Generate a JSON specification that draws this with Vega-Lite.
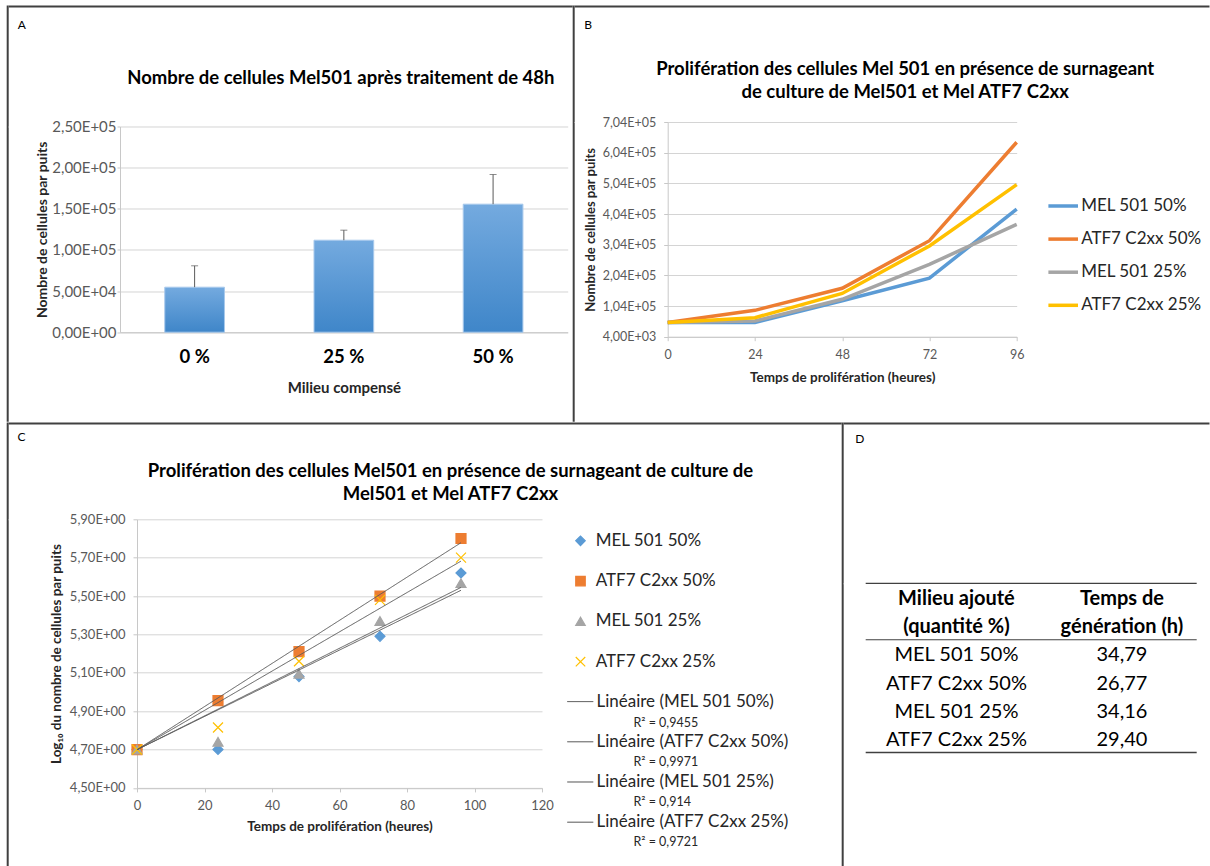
{
  "$schema": "https://vega.github.io/schema/vega-lite/v6.json",
  "padding": {"left": 6.7, "top": 5.5, "right": 0, "bottom": 0},
  "background": "white",
  "config": {
    "font": "Lato",
    "view": {"stroke": null},
    "axis": {"labelFont": "Lato", "titleFont": "Lato", "gridColor": "#d4d4d4", "domainColor": "#c8c8c8", "tickColor": "#c8c8c8", "labelColor": "#595959", "titleColor": "#262626", "titleFontWeight": "bold", "labelOverlap": false},
    "title": {"font": "Lato", "color": "#000000", "fontWeight": "bold"},
    "legend": {"labelFont": "Lato", "labelColor": "#262626", "labelLimit": 400}
  },
  "datasets": {
    "traitement": [
      {"milieu": "0 %", "cellules": 54700, "haut": 80700},
      {"milieu": "25 %", "cellules": 111800, "haut": 124000},
      {"milieu": "50 %", "cellules": 155600, "haut": 191700}
    ],
    "croissance": [
      {"serie": "MEL 501 50%", "heures": 0, "cellules": 50100, "log10": 4.70},
      {"serie": "MEL 501 50%", "heures": 24, "cellules": 50100, "log10": 4.70},
      {"serie": "MEL 501 50%", "heures": 48, "cellules": 121000, "log10": 5.08},
      {"serie": "MEL 501 50%", "heures": 72, "cellules": 195000, "log10": 5.29},
      {"serie": "MEL 501 50%", "heures": 96, "cellules": 420000, "log10": 5.62},
      {"serie": "ATF7 C2xx 50%", "heures": 0, "cellules": 50100, "log10": 4.70},
      {"serie": "ATF7 C2xx 50%", "heures": 24, "cellules": 90000, "log10": 4.955},
      {"serie": "ATF7 C2xx 50%", "heures": 48, "cellules": 162000, "log10": 5.21},
      {"serie": "ATF7 C2xx 50%", "heures": 72, "cellules": 317000, "log10": 5.50},
      {"serie": "ATF7 C2xx 50%", "heures": 96, "cellules": 638000, "log10": 5.80},
      {"serie": "MEL 501 25%", "heures": 0, "cellules": 50100, "log10": 4.70},
      {"serie": "MEL 501 25%", "heures": 24, "cellules": 55000, "log10": 4.74},
      {"serie": "MEL 501 25%", "heures": 48, "cellules": 126000, "log10": 5.095},
      {"serie": "MEL 501 25%", "heures": 72, "cellules": 240000, "log10": 5.37},
      {"serie": "MEL 501 25%", "heures": 96, "cellules": 370000, "log10": 5.567},
      {"serie": "ATF7 C2xx 25%", "heures": 0, "cellules": 50100, "log10": 4.70},
      {"serie": "ATF7 C2xx 25%", "heures": 24, "cellules": 66000, "log10": 4.815},
      {"serie": "ATF7 C2xx 25%", "heures": 48, "cellules": 145000, "log10": 5.16},
      {"serie": "ATF7 C2xx 25%", "heures": 72, "cellules": 300000, "log10": 5.48},
      {"serie": "ATF7 C2xx 25%", "heures": 96, "cellules": 500000, "log10": 5.70}
    ],
    "tendances": [
      {"tendance": "Linéaire (MEL 501 50%)", "r2": "R² = 0,9455", "heures": 0, "log10": 4.699},
      {"tendance": "Linéaire (MEL 501 50%)", "r2": "R² = 0,9455", "heures": 96, "log10": 5.530},
      {"tendance": "Linéaire (ATF7 C2xx 50%)", "r2": "R² = 0,9971", "heures": 0, "log10": 4.699},
      {"tendance": "Linéaire (ATF7 C2xx 50%)", "r2": "R² = 0,9971", "heures": 96, "log10": 5.778},
      {"tendance": "Linéaire (MEL 501 25%)", "r2": "R² = 0,914", "heures": 0, "log10": 4.699},
      {"tendance": "Linéaire (MEL 501 25%)", "r2": "R² = 0,914", "heures": 96, "log10": 5.545},
      {"tendance": "Linéaire (ATF7 C2xx 25%)", "r2": "R² = 0,9721", "heures": 0, "log10": 4.699},
      {"tendance": "Linéaire (ATF7 C2xx 25%)", "r2": "R² = 0,9721", "heures": 96, "log10": 5.682}
    ],
    "tableau": [
      {"ligne": "entête 1", "c1": "Milieu ajouté", "c2": "Temps de", "entete": true},
      {"ligne": "entête 2", "c1": "(quantité %)", "c2": "génération (h)", "entete": true},
      {"ligne": "MEL 501 50%", "c1": "MEL 501 50%", "c2": "34,79", "entete": false},
      {"ligne": "ATF7 C2xx 50%", "c1": "ATF7 C2xx 50%", "c2": "26,77", "entete": false},
      {"ligne": "MEL 501 25%", "c1": "MEL 501 25%", "c2": "34,16", "entete": false},
      {"ligne": "ATF7 C2xx 25%", "c1": "ATF7 C2xx 25%", "c2": "29,40", "entete": false}
    ],
    "vide": []
  },
  "resolve": {"scale": {"color": "independent", "shape": "independent", "stroke": "independent", "strokeDash": "independent", "strokeWidth": "independent"}},
  "spacing": 0,
  "vconcat": [
    {
      "spacing": 0,
      "resolve": {"scale": {"color": "independent", "shape": "independent", "stroke": "independent", "strokeDash": "independent", "strokeWidth": "independent"}},
      "hconcat": [
        {"width": 2, "height": 416.2, "view": {"fill": "#404040", "stroke": null}, "data": {"name": "vide"}, "mark": "point"},
        {
          "spacing": 11,
          "resolve": {"scale": {"color": "independent", "shape": "independent", "stroke": "independent", "strokeDash": "independent", "strokeWidth": "independent"}},
          "vconcat": [
            {"width": 564, "height": 2, "view": {"fill": "#404040", "stroke": null}, "data": {"name": "vide"}, "mark": "point"},
            {
              "spacing": 7.3,
              "hconcat": [
                {"width": 1, "height": 1, "view": {"fill": "#ffffff", "stroke": null}, "data": {"name": "vide"}, "mark": "point"},
                {
                  "title": {"text": "A", "anchor": "start", "fontSize": 12, "fontWeight": "normal", "dx": -18, "offset": 37.4},
                  "vconcat": [
                    {
                      "width": 447.7,
                      "height": 205.7,
                      "title": {"text": "Nombre de cellules Mel501 après traitement de 48h", "fontSize": 18.5, "anchor": "middle", "frame": "group", "dx": -3, "offset": 31.6},
                      "data": {"name": "traitement"},
                      "encoding": {
                        "x": {"field": "milieu", "type": "nominal", "sort": null, "scale": {"paddingInner": 0.6, "paddingOuter": 0.3},
                          "axis": {"title": "Milieu compensé", "titleFontSize": 15, "titlePadding": 15, "labelFontSize": 18.5, "labelFontWeight": "bold", "labelColor": "#000000", "labelAngle": 0, "labelPadding": 15, "ticks": false}}
                      },
                      "layer": [
                        {
                          "mark": {"type": "bar", "color": {"gradient": "linear", "x1": 0, "y1": 0, "x2": 0, "y2": 1, "stops": [{"offset": 0, "color": "#74aadf"}, {"offset": 1, "color": "#3f86c9"}]}, "stroke": "#a8c9ec", "strokeWidth": 1},
                          "encoding": {
                            "y": {"field": "cellules", "type": "quantitative", "title": "Nombre de cellules par puits", "scale": {"domain": [0, 250000], "nice": false},
                              "axis": {"values": [0, 50000, 100000, 150000, 200000, 250000], "tickCount": 6, "labelExpr": "datum.value == 0 ? '0,00E+00' : replace(format(datum.value / pow(10, floor(log(datum.value) / LN10 + 0.000001)), '.2f'), '.', ',') + 'E+' + (floor(log(datum.value) / LN10 + 0.000001) < 10 ? '0' : '') + floor(log(datum.value) / LN10 + 0.000001)", "titleFontSize": 14, "titlePadding": 2, "labelFontSize": 15, "labelPadding": 1, "tickSize": 3, "grid": true}}
                          }
                        },
                        {
                          "mark": {"type": "rule", "color": "#595959", "strokeWidth": 1},
                          "encoding": {"y": {"field": "cellules", "type": "quantitative", "title": "Nombre de cellules par puits"}, "y2": {"field": "haut"}}
                        },
                        {
                          "mark": {"type": "tick", "color": "#595959", "thickness": 1, "size": 7},
                          "encoding": {"y": {"field": "haut", "type": "quantitative", "title": "Nombre de cellules par puits"}}
                        }
                      ]
                    }
                  ]
                }
              ]
            }
          ]
        },
        {"width": 2, "height": 416.2, "view": {"fill": "#404040", "stroke": null}, "data": {"name": "vide"}, "mark": "point"},
        {
          "spacing": 10.5,
          "resolve": {"scale": {"color": "independent", "shape": "independent", "stroke": "independent", "strokeDash": "independent", "strokeWidth": "independent"}},
          "vconcat": [
            {"width": 634.8, "height": 2, "view": {"fill": "#404040", "stroke": null}, "data": {"name": "vide"}, "mark": "point"},
            {
              "spacing": 8,
              "resolve": {"scale": {"color": "independent", "shape": "independent", "stroke": "independent", "strokeDash": "independent", "strokeWidth": "independent"}},
              "hconcat": [
                {"width": 1, "height": 1, "view": {"fill": "#ffffff", "stroke": null}, "data": {"name": "vide"}, "mark": "point"},
                {
                  "title": {"text": "B", "anchor": "start", "fontSize": 12, "fontWeight": "normal", "dx": 0, "offset": 28.5},
                  "vconcat": [
                    {
                      "width": 349,
                      "height": 214.7,
                      "title": {"text": ["Prolifération des cellules Mel 501 en présence de surnageant", "de culture de Mel501 et Mel ATF7 C2xx"], "fontSize": 18.5, "lineHeight": 23.5, "anchor": "middle", "frame": "group", "dx": 63, "offset": 14},
                      "data": {"name": "croissance"},
                      "mark": {"type": "line", "strokeWidth": 3.5},
                      "encoding": {
                        "x": {"field": "heures", "type": "quantitative", "scale": {"domain": [0, 96], "nice": false},
                          "axis": {"values": [0, 24, 48, 72, 96], "tickCount": 5, "grid": false, "title": "Temps de prolifération (heures)", "titleFontSize": 13.5, "titlePadding": 9, "labelFontSize": 12.5, "labelPadding": 8, "tickSize": 4, "labelFlush": false}},
                        "y": {"field": "cellules", "type": "quantitative", "scale": {"domain": [4000, 704000], "nice": false, "zero": false},
                          "axis": {"values": [4000, 104000, 204000, 304000, 404000, 504000, 604000, 704000], "tickCount": 8, "labelExpr": "datum.value == 0 ? '0,00E+00' : replace(format(datum.value / pow(10, floor(log(datum.value) / LN10 + 0.000001)), '.2f'), '.', ',') + 'E+' + (floor(log(datum.value) / LN10 + 0.000001) < 10 ? '0' : '') + floor(log(datum.value) / LN10 + 0.000001)", "title": "Nombre de cellules par puits", "titleFontSize": 13, "titlePadding": 5, "labelFontSize": 12.5, "labelPadding": 8, "tickSize": 4, "grid": true}},
                        "color": {"field": "serie", "type": "nominal",
                          "scale": {"domain": ["MEL 501 50%", "ATF7 C2xx 50%", "MEL 501 25%", "ATF7 C2xx 25%"], "range": ["#5b9bd5", "#ed7d31", "#a5a5a5", "#ffc000"]},
                          "legend": {"orient": "none", "legendX": 378.5, "legendY": 67, "title": null, "labelFontSize": 17, "labelOffset": 1, "rowPadding": 8.1, "symbolType": "stroke", "symbolSize": 876, "symbolStrokeWidth": 3.5, "padding": 0}}
                      }
                    }
                  ]
                }
              ]
            }
          ]
        }
      ]
    },
    {
      "spacing": 0,
      "resolve": {"scale": {"color": "independent", "shape": "independent", "stroke": "independent", "strokeDash": "independent", "strokeWidth": "independent"}},
      "hconcat": [
        {"width": 2, "height": 444, "view": {"fill": "#404040", "stroke": null}, "data": {"name": "vide"}, "mark": "point"},
        {
          "spacing": 6.8,
          "resolve": {"scale": {"color": "independent", "shape": "independent", "stroke": "independent", "strokeDash": "independent", "strokeWidth": "independent"}},
          "vconcat": [
            {"width": 833, "height": 2, "view": {"fill": "#404040", "stroke": null}, "data": {"name": "vide"}, "mark": "point"},
            {
              "spacing": 7.3,
              "resolve": {"scale": {"color": "independent", "shape": "independent", "stroke": "independent", "strokeDash": "independent", "strokeWidth": "independent"}},
              "hconcat": [
                {"width": 1, "height": 1, "view": {"fill": "#ffffff", "stroke": null}, "data": {"name": "vide"}, "mark": "point"},
                {
                  "title": {"text": "C", "anchor": "start", "fontSize": 12, "fontWeight": "normal", "dx": -31.7, "offset": 17.5},
                  "vconcat": [
                    {
                      "width": 405,
                      "height": 268.6,
                      "title": {"text": ["Prolifération des cellules Mel501 en présence de surnageant de culture de", "Mel501 et Mel ATF7 C2xx"], "fontSize": 18.5, "lineHeight": 23, "anchor": "middle", "frame": "group", "dx": 111, "offset": 10},
                      "layer": [
                        {
                          "data": {"name": "croissance"},
                          "mark": {"type": "point", "filled": true, "size": 100, "strokeWidth": 1.2, "opacity": 1},
                          "encoding": {
                            "x": {"field": "heures", "type": "quantitative", "title": "Temps de prolifération (heures)", "scale": {"domain": [0, 120], "nice": false},
                              "axis": {"values": [0, 20, 40, 60, 80, 100, 120], "tickCount": 7, "grid": false, "titleFontSize": 13.5, "titlePadding": 7, "labelFontSize": 13, "labelPadding": 8, "tickSize": 4, "labelFlush": false}},
                            "y": {"field": "log10", "type": "quantitative", "title": "Log₁₀ du nombre de cellules par puits", "scale": {"domain": [4.5, 5.9], "nice": false, "zero": false},
                              "axis": {"values": [4.5, 4.7, 4.9, 5.1, 5.3, 5.5, 5.7, 5.9], "tickCount": 8, "labelExpr": "replace(format(datum.value, '.2f'), '.', ',') + 'E+00'", "titleFontSize": 13.5, "titlePadding": 6, "labelFontSize": 13, "labelPadding": 8, "tickSize": 4, "grid": true}},
                            "color": {"field": "serie", "type": "nominal",
                              "scale": {"domain": ["MEL 501 50%", "ATF7 C2xx 50%", "MEL 501 25%", "ATF7 C2xx 25%"], "range": ["#5b9bd5", "#ed7d31", "#a5a5a5", "#ffc000"]},
                              "legend": {"orient": "none", "legendX": 435, "legendY": 13, "title": null, "labelFontSize": 17, "labelOffset": 6.7, "rowPadding": 22.3, "symbolSize": 90, "symbolStrokeWidth": 1.2, "padding": 0}},
                            "stroke": {"field": "serie", "type": "nominal",
                              "scale": {"domain": ["MEL 501 50%", "ATF7 C2xx 50%", "MEL 501 25%", "ATF7 C2xx 25%"], "range": ["#5b9bd5", "#ed7d31", "#a5a5a5", "#ffc000"]},
                              "legend": {"orient": "none", "legendX": 435, "legendY": 13, "title": null, "labelFontSize": 17, "labelOffset": 6.7, "rowPadding": 22.3, "symbolSize": 90, "symbolStrokeWidth": 1.2, "padding": 0}},
                            "shape": {"field": "serie", "type": "nominal",
                              "scale": {"domain": ["MEL 501 50%", "ATF7 C2xx 50%", "MEL 501 25%", "ATF7 C2xx 25%"], "range": ["diamond", "square", "triangle-up", "M-1,-1L1,1M-1,1L1,-1"]},
                              "legend": {"orient": "none", "legendX": 435, "legendY": 13, "title": null, "labelFontSize": 17, "labelOffset": 6.7, "rowPadding": 22.3, "symbolSize": 90, "symbolStrokeWidth": 1.2, "padding": 0}}
                          }
                        },
                        {
                          "data": {"name": "tendances"},
                          "mark": {"type": "line", "color": "#595959", "strokeWidth": 1},
                          "encoding": {
                            "x": {"field": "heures", "type": "quantitative", "title": "Temps de prolifération (heures)"},
                            "y": {"field": "log10", "type": "quantitative", "title": "Log₁₀ du nombre de cellules par puits"},
                            "strokeDash": {"field": "tendance", "type": "nominal",
                              "scale": {"domain": ["Linéaire (MEL 501 50%)", "Linéaire (ATF7 C2xx 50%)", "Linéaire (MEL 501 25%)", "Linéaire (ATF7 C2xx 25%)"], "range": [[1, 0], [1, 0], [1, 0], [1, 0]]},
                              "legend": {"orient": "none", "legendX": 429.8, "legendY": 168.8, "title": null, "labelFontSize": 17, "labelOffset": 2.7, "rowPadding": 18.2, "symbolType": "stroke", "symbolSize": 676, "symbolStrokeColor": "#404040", "symbolStrokeWidth": 1, "padding": 0}},
                            "strokeWidth": {"field": "r2", "type": "ordinal",
                              "scale": {"domain": ["R² = 0,9455", "R² = 0,9971", "R² = 0,914", "R² = 0,9721"], "range": [1, 1, 1, 1]},
                              "legend": {"orient": "none", "legendX": 484, "legendY": 197, "title": null, "labelFontSize": 12.5, "labelOffset": 0, "rowPadding": 26.9, "symbolOpacity": 0, "symbolSize": 1, "padding": 0}}
                          }
                        }
                      ]
                    }
                  ]
                }
              ]
            }
          ]
        },
        {"width": 2, "height": 444, "view": {"fill": "#404040", "stroke": null}, "data": {"name": "vide"}, "mark": "point"},
        {
          "spacing": 7.8,
          "vconcat": [
            {"width": 365.8, "height": 2, "view": {"fill": "#404040", "stroke": null}, "data": {"name": "vide"}, "mark": "point"},
            {
              "spacing": 10,
              "hconcat": [
                {"width": 1, "height": 1, "view": {"fill": "#ffffff", "stroke": null}, "data": {"name": "vide"}, "mark": "point"},
                {
                  "width": 331,
                  "height": 169.3,
                  "title": {"text": "D", "anchor": "start", "fontSize": 12, "fontWeight": "normal", "dx": -9.6, "offset": 136.7},
                  "encoding": {
                    "x": {"field": "colonne", "type": "nominal", "scale": {"domain": ["c1", "c2"], "paddingInner": 0, "paddingOuter": 0}, "axis": null},
                    "y": {"field": "ligne", "type": "nominal", "scale": {"domain": ["entête 1", "entête 2", "MEL 501 50%", "ATF7 C2xx 50%", "MEL 501 25%", "ATF7 C2xx 25%"], "paddingInner": 0, "paddingOuter": 0}, "axis": null}
                  },
                  "layer": [
                    {
                      "data": {"name": "tableau"},
                      "transform": [{"filter": "datum.entete"}, {"fold": ["c1", "c2"], "as": ["colonne", "texte"]}],
                      "mark": {"type": "text", "fontSize": 20, "fontWeight": "bold", "color": "#000000", "dx": 8, "dy": 1.5},
                      "encoding": {"text": {"field": "texte"}}
                    },
                    {
                      "data": {"name": "tableau"},
                      "transform": [{"filter": "!datum.entete"}, {"fold": ["c1", "c2"], "as": ["colonne", "texte"]}],
                      "mark": {"type": "text", "fontSize": 20, "color": "#000000", "dx": 8, "dy": 1.5},
                      "encoding": {"text": {"field": "texte"}}
                    },
                    {
                      "data": {"values": [{}]},
                      "mark": {"type": "rule", "color": "#404040", "strokeWidth": 1.2},
                      "encoding": {"x": {"datum": "c1", "bandPosition": 0}, "x2": {"datum": "c2", "bandPosition": 1}, "y": {"datum": "entête 1", "bandPosition": 0}}
                    },
                    {
                      "data": {"values": [{}]},
                      "mark": {"type": "rule", "color": "#404040", "strokeWidth": 1.2},
                      "encoding": {"x": {"datum": "c1", "bandPosition": 0}, "x2": {"datum": "c2", "bandPosition": 1}, "y": {"datum": "MEL 501 50%", "bandPosition": 0}}
                    },
                    {
                      "data": {"values": [{}]},
                      "mark": {"type": "rule", "color": "#404040", "strokeWidth": 1.5},
                      "encoding": {"x": {"datum": "c1", "bandPosition": 0}, "x2": {"datum": "c2", "bandPosition": 1}, "y": {"datum": "ATF7 C2xx 25%", "bandPosition": 1}}
                    }
                  ]
                }
              ]
            }
          ]
        }
      ]
    }
  ]
}
